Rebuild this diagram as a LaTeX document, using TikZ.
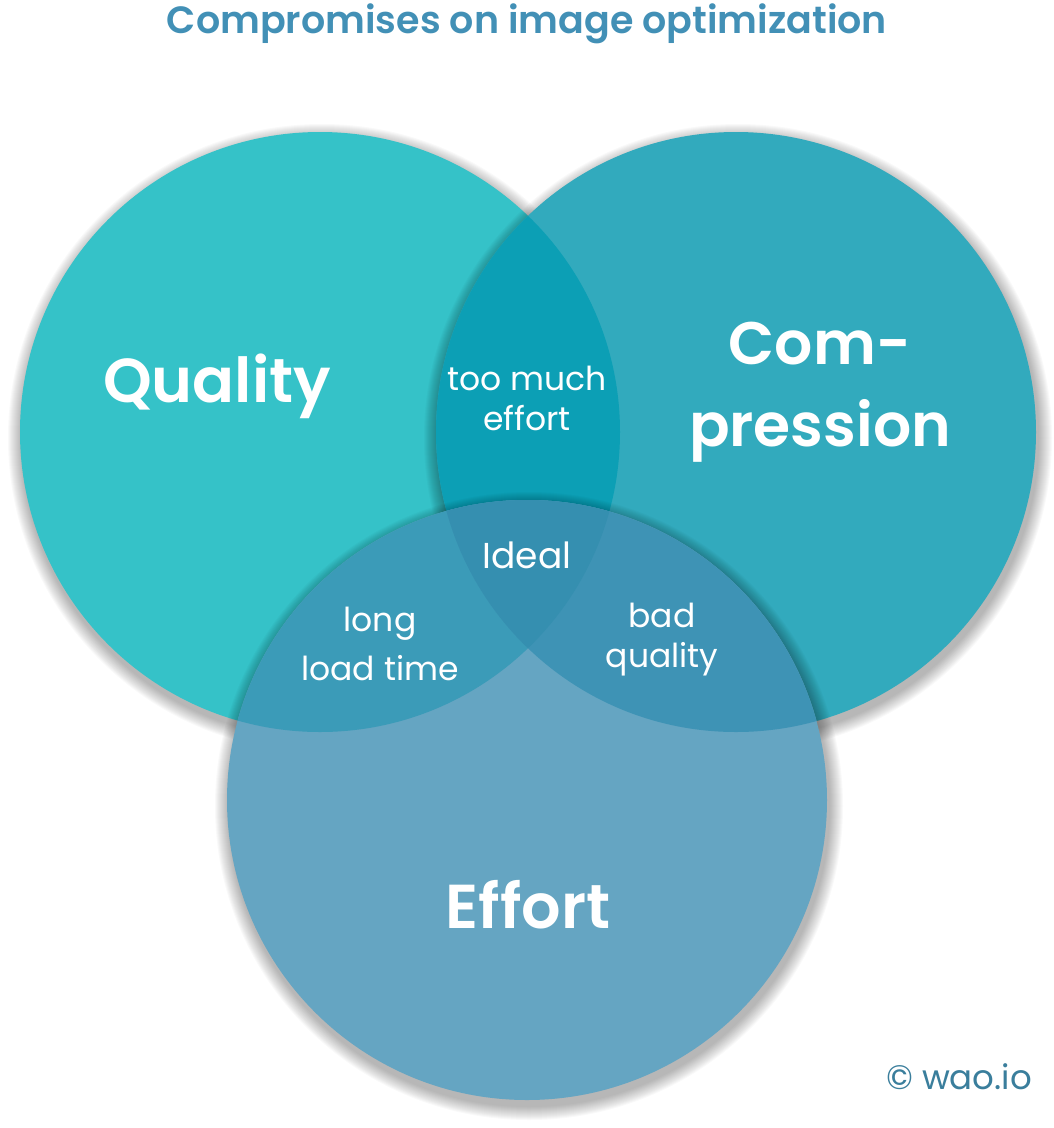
\documentclass[tikz,border=0pt]{standalone}
\usepackage{fontspec}
\setmainfont{Poppins}[BoldFont={Poppins SemiBold}]
\definecolor{qualcol}{HTML}{35C2C8}
\definecolor{compcol}{HTML}{32AABD}
\definecolor{effcol}{HTML}{65A5C2}
\definecolor{qccol}{HTML}{0C9FB5}
\definecolor{qecol}{HTML}{3B9BB8}
\definecolor{cecol}{HTML}{3E93B5}
\definecolor{allcol}{HTML}{358FB0}
\definecolor{titlecol}{HTML}{4290B6}
\definecolor{copycol}{HTML}{3A7E9C}
\begin{document}
\begin{tikzpicture}[x=1pt,y=-1pt,
	shade/.style={fill=black,fill opacity=0.022},
	big/.style={text=white,font=\fontsize{62}{82}\selectfont\bfseries,align=center},
	small/.style={text=white,font=\fontsize{33}{40}\selectfont,align=center}]
		\useasboundingbox (0,0) rectangle (1054,1128);
		\coordinate (cq) at (320,432);
		\coordinate (cc) at (736,432);
		\coordinate (ce) at (527,800);
		% quality
		\foreach \i in {1,...,14} \fill[shade] ([shift={(2,6)}]cq) circle (300+\i);
		\fill[qualcol] (cq) circle (300);
		% compression
		\foreach \i in {1,...,14} \fill[shade] ([shift={(2,6)}]cc) circle (300+\i);
		\fill[compcol] (cc) circle (300);
		\begin{scope}
			\clip (cq) circle (300);
			\fill[qccol] (cc) circle (300);
		\end{scope}
		% effort
		\foreach \i in {1,...,14} \fill[shade] ([shift={(2,6)}]ce) circle (300+\i);
		\fill[effcol] (ce) circle (300);
		\begin{scope}
			\clip (ce) circle (300);
			\fill[qecol] (cq) circle (300);
			\fill[cecol] (cc) circle (300);
			\clip (cq) circle (300);
			\fill[allcol] (cc) circle (300);
		\end{scope}
		% labels
		\node[text=titlecol,font=\fontsize{38}{40}\selectfont\bfseries] (title) at (527,24) {Compromises on image optimization};
		\node[big] (quality) at (217,386) {Quality};
		\node[big,font=\fontsize{60}{82}\selectfont\bfseries] (compression) at (820,392) {Com-\\pression};
		\node[big] (effort) at (528,905) {Effort};
		\node[small] (toomuch) at (527,398) {too much\\effort};
		\node[small,font=\fontsize{36}{40}\selectfont] (ideal) at (527,555) {Ideal};
		\node[small,font=\fontsize{33}{49}\selectfont] (longload) at (380,644) {long\\load time};
		\node[small] (badqual) at (662,640) {bad\\quality};
		\node[text=copycol,font=\fontsize{34}{36}\selectfont] (copy) at (959,1077) {© wao.io};
		\end{tikzpicture}
\end{document}
